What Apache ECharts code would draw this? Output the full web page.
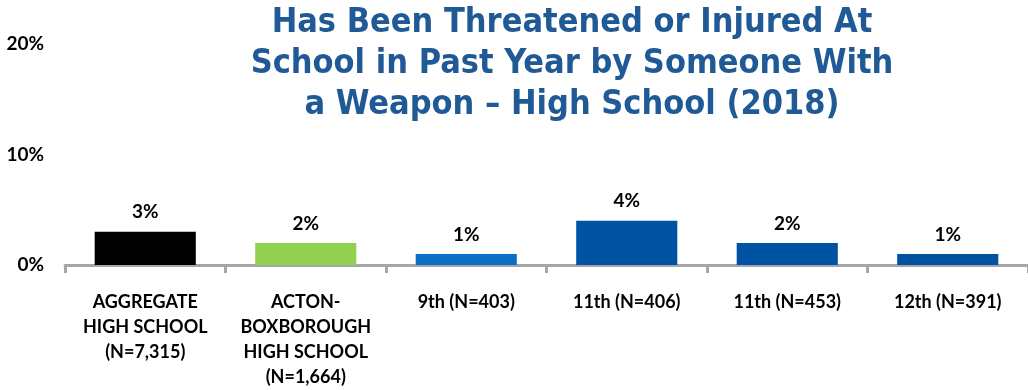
<!DOCTYPE html>
<html>
<head>
<meta charset="utf-8">
<script src="https://cdn.jsdelivr.net/npm/echarts@6/dist/echarts.min.js"></script>
<style>html,body{margin:0;padding:0;background:#fff;}#c{width:1028px;height:390px;}</style>
</head>
<body>
<div id="c"></div>
<script>
const categories = ['AGGREGATE\nHIGH SCHOOL\n(N=7,315)', 'ACTON-\nBOXBOROUGH\nHIGH SCHOOL\n(N=1,664)', '9th (N=403)', '11th (N=406)', '11th (N=453)', '12th (N=391)'];
const values = [3, 2, 1, 4, 2, 1];
const barColors = ['#000000', '#92D050', '#0A6EC2', '#0052A3', '#0052A3', '#0052A3'];
const yTicks = [0, 10, 20];
const titleText = 'Has Been Threatened or Injured At\nSchool in Past Year by Someone With\na Weapon \u2013 High School (2018)';

const chart = echarts.init(document.getElementById('c'), null, {renderer: 'canvas'});
chart.setOption({
  animation: false,
  backgroundColor: '#ffffff',
  title: {
    text: titleText,
    left: 567,
    top: -2,
    textAlign: 'center',
    textStyle: {
      fontFamily: '"DejaVu Sans Condensed", "DejaVu Sans", sans-serif',
      fontWeight: 'bold',
      fontSize: 34,
      lineHeight: 41,
      color: '#1F5A96'
    }
  },
  grid: {left: 65, top: 44, width: 966, height: 228, containLabel: false},
  xAxis: {
    type: 'category',
    data: categories,
    axisLine: {lineStyle: {color: '#A6A6A6', width: 3}},
    axisTick: {show: true, length: 8, lineStyle: {color: '#A6A6A6', width: 3}},
    axisLabel: {
      interval: 0,
      margin: 25,
      fontFamily: 'Lato, "Open Sans", sans-serif',
      fontWeight: 'bold',
      fontSize: 18,
      lineHeight: 25,
      color: '#000000',
      verticalAlign: 'top'
    }
  },
  yAxis: {
    type: 'value',
    min: yTicks[0],
    max: yTicks[yTicks.length - 1],
    interval: 10,
    splitLine: {show: false},
    axisLine: {show: false},
    axisTick: {show: false},
    axisLabel: {
      formatter: v => v + '%',
      margin: 21,
      fontFamily: 'Lato, "Open Sans", sans-serif',
      fontWeight: 'bold',
      fontSize: 19,
      color: '#000000'
    }
  },
  series: [{
    type: 'bar',
    data: values.map((v, i) => ({value: v, itemStyle: {color: barColors[i]}})),
    barWidth: '63%',
    label: {
      show: true,
      position: 'top',
      distance: 10,
      formatter: p => p.value + '%',
      fontFamily: 'Lato, "Open Sans", sans-serif',
      fontWeight: 'bold',
      fontSize: 19,
      color: '#000000'
    }
  }]
});
</script>
</body>
</html>
